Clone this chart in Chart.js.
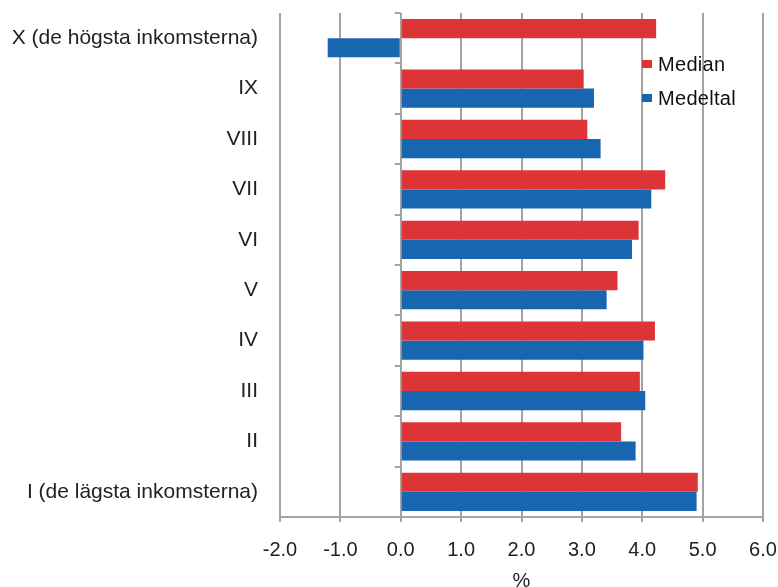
<!DOCTYPE html>
<html>
<head>
<meta charset="utf-8">
<script src="https://cdn.jsdelivr.net/npm/chart.js@4/dist/chart.umd.min.js"></script>
<style>
  html, body { margin: 0; padding: 0; background: #fff; }
  #wrap { position: relative; width: 778px; height: 587px; overflow: hidden; }
  #legend { position: absolute; left: 642px; top: 47px; font: 20px "Liberation Sans", Arial, sans-serif; color: #111; letter-spacing: 0.3px; }
  .item { display: flex; align-items: center; height: 34px; }
  .box { width: 10px; height: 8px; margin-right: 6px; }
</style>
</head>
<body>
<div id="wrap">
  <canvas id="chart" width="778" height="587"></canvas>
  <div id="legend"></div>
</div>
<script>
const categories = ['X (de högsta inkomsterna)', 'IX', 'VIII', 'VII', 'VI', 'V', 'IV', 'III', 'II', 'I (de lägsta inkomsterna)'];
const medianValues = [4.23, 3.03, 3.09, 4.38, 3.94, 3.59, 4.21, 3.96, 3.65, 4.92];
const medeltalValues = [-1.21, 3.20, 3.31, 4.15, 3.83, 3.41, 4.02, 4.05, 3.89, 4.90];
const seriesNames = ['Median', 'Medeltal'];
const seriesColors = ['#dc3437', '#1866b0'];
const xMin = -2, xMax = 6, xStep = 1;

const FONT = '"Liberation Sans", Arial, sans-serif';
const GRID = '#a3a3a3';

// small tick marks on the category axis, which crosses at 0
const zeroAxisTicks = {
    id: 'zeroAxisTicks',
    afterDraw(chart) {
        const ctx = chart.ctx;
        const x0 = chart.scales.x.getPixelForValue(0);
        const top = chart.chartArea.top;
        const h = (chart.chartArea.bottom - top) / categories.length;
        ctx.save();
        ctx.strokeStyle = GRID;
        ctx.lineWidth = 2;
        for (let i = 0; i <= categories.length; i++) {
            const y = Math.round(top + i * h);
            ctx.beginPath();
            ctx.moveTo(x0 - 6, y);
            ctx.lineTo(x0, y);
            ctx.stroke();
        }
        ctx.restore();
    }
};

new Chart(document.getElementById('chart'), {
    type: 'bar',
    data: {
        labels: categories,
        datasets: [
            { label: seriesNames[0], data: medianValues, backgroundColor: seriesColors[0] },
            { label: seriesNames[1], data: medeltalValues, backgroundColor: seriesColors[1] }
        ]
    },
    options: {
        indexAxis: 'y',
        responsive: false,
        animation: false,
        devicePixelRatio: 1,
        categoryPercentage: 0.76,
        barPercentage: 1,
        layout: { padding: { top: 13, right: 15, left: 0, bottom: 0 } },
        plugins: { legend: { display: false }, tooltip: { enabled: false } },
        scales: {
            x: {
                min: xMin,
                max: xMax,
                afterFit(scale) {
                    scale.height = 70;
                    scale.paddingLeft = 0;
                    scale.paddingRight = 0;
                },
                ticks: {
                    stepSize: xStep,
                    padding: 16,
                    color: '#222',
                    font: { family: FONT, size: 20 },
                    callback: v => v.toFixed(1)
                },
                grid: { color: GRID, lineWidth: 2, tickLength: 5 },
                border: { display: true, color: GRID, width: 2 },
                title: {
                    display: true,
                    text: '%',
                    color: '#222',
                    font: { family: FONT, size: 20 },
                    padding: { top: 0, bottom: -6 }
                }
            },
            y: {
                afterFit(scale) {
                    scale.width = 280;
                    scale.paddingTop = 0;
                    scale.paddingBottom = 0;
                },
                ticks: {
                    padding: 22,
                    color: '#222',
                    font: { family: FONT, size: 21 }
                },
                grid: { display: false, drawTicks: false },
                border: { display: false }
            }
        }
    },
    plugins: [zeroAxisTicks]
});

document.getElementById('legend').innerHTML = seriesNames.map((name, i) =>
    `<div class="item"><span class="box" style="background:${seriesColors[i]}"></span>${name}</div>`
).join('');
</script>
</body>
</html>
